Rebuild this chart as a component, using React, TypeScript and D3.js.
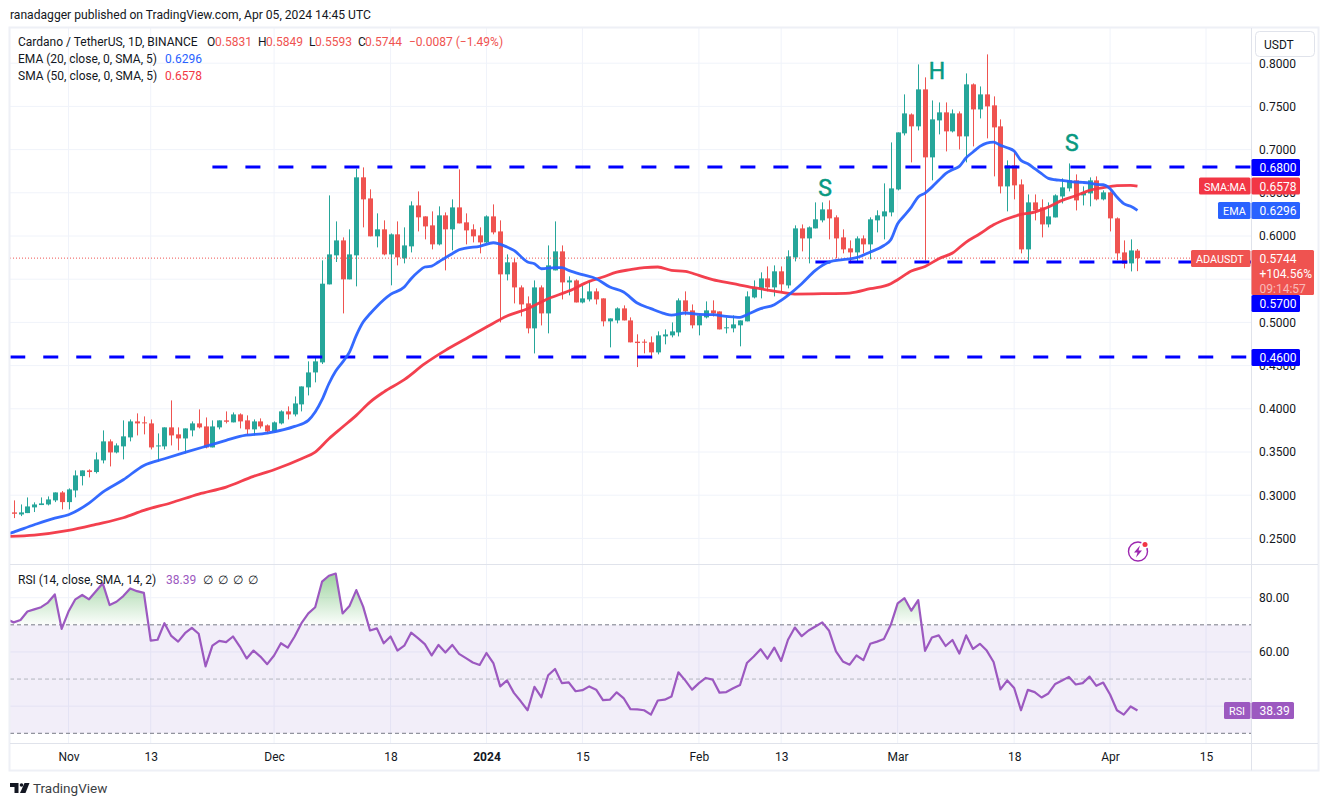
import * as d3 from "d3";
import React, { useEffect, useRef } from "react";

const FONT = "Roboto, sans-serif";
const GREEN = "#26a69a";
const RED = "#ef5350";
const EMA_BLUE = "#2962ff";
const SMA_RED = "#f23645";
const RSI_PURPLE = "#9c59c0";
const LEVEL_BLUE = "#0000ff";
const GRID = "#f0f3fa";
const BORDER = "#e0e3eb";
const TEXT = "#131722";

const firstBar = Date.UTC(2023, 9, 24);

const candleOpen = [
	0.2801, 0.2777, 0.2793, 0.2859, 0.2886, 0.2893, 0.294, 0.3032, 0.292, 0.3055,
	0.3221, 0.3287, 0.3268, 0.3403, 0.3623, 0.3495, 0.3565, 0.3669, 0.3854, 0.3843,
	0.3831, 0.3568, 0.3565, 0.3785, 0.3704, 0.3657, 0.375, 0.3831, 0.3796, 0.3553,
	0.3785, 0.3866, 0.3843, 0.3935, 0.3866, 0.3762, 0.3854, 0.3808, 0.3738, 0.3831,
	0.397, 0.3935, 0.4051, 0.4248, 0.4421, 0.4537, 0.544, 0.5776, 0.5949, 0.5498,
	0.5776, 0.6679, 0.6435, 0.5996, 0.6077, 0.5787, 0.6019, 0.5741, 0.588, 0.6354,
	0.6227, 0.6123, 0.5903, 0.6239, 0.6077, 0.6331, 0.6158, 0.6077, 0.6007, 0.5926,
	0.6227, 0.6053, 0.5556, 0.5695, 0.5405, 0.522, 0.4931, 0.5405, 0.5104, 0.5602,
	0.5822, 0.5463, 0.5486, 0.5231, 0.5266, 0.5359, 0.5278, 0.5012, 0.5023, 0.5162,
	0.5023, 0.4777, 0.4777, 0.4769, 0.4653, 0.4838, 0.485, 0.4884, 0.5255, 0.5139,
	0.4966, 0.5058, 0.5139, 0.5127, 0.494, 0.4931, 0.4966, 0.5012, 0.5289, 0.5394,
	0.5509, 0.5405, 0.5591, 0.5428, 0.5752, 0.6088, 0.5972, 0.6088, 0.6181, 0.6308,
	0.6216, 0.5984, 0.5857, 0.581, 0.5972, 0.5903, 0.6181, 0.6227, 0.6273, 0.6539,
	0.7188, 0.7407, 0.7269, 0.7697, 0.691, 0.7338, 0.7431, 0.7211, 0.7419, 0.7153,
	0.7755, 0.7465, 0.7639, 0.7512, 0.7269, 0.6574, 0.6817, 0.6597, 0.5845, 0.6389,
	0.6331, 0.6134, 0.6215, 0.6458, 0.6551, 0.6644, 0.647, 0.6493, 0.6644, 0.6424,
	0.6505, 0.6204, 0.581, 0.5683, 0.5831,
];

const candleHigh = [
	0.294, 0.2893, 0.2974, 0.2917, 0.2974, 0.2986, 0.3032, 0.3048, 0.3079, 0.3287,
	0.3287, 0.3299, 0.3495, 0.375, 0.3646, 0.36, 0.3866, 0.3877, 0.3947, 0.3912,
	0.3877, 0.3715, 0.3785, 0.4097, 0.3785, 0.3773, 0.3854, 0.3993, 0.39, 0.3866,
	0.3866, 0.397, 0.3958, 0.3947, 0.3924, 0.3877, 0.3889, 0.3819, 0.3854, 0.3982,
	0.4028, 0.4143, 0.4259, 0.4549, 0.4595, 0.5718, 0.647, 0.6169, 0.5984, 0.6077,
	0.6779, 0.6794, 0.654, 0.6262, 0.6181, 0.603, 0.6169, 0.61, 0.6401, 0.6516,
	0.6227, 0.6285, 0.6343, 0.6273, 0.6424, 0.6771, 0.6262, 0.6135, 0.61, 0.6239,
	0.6366, 0.6181, 0.5787, 0.5741, 0.5428, 0.5301, 0.5486, 0.5428, 0.5891, 0.6169,
	0.5891, 0.5533, 0.5498, 0.5428, 0.5486, 0.5394, 0.5278, 0.5046, 0.5174, 0.5197,
	0.5058, 0.4862, 0.4804, 0.4838, 0.4896, 0.4919, 0.5, 0.5278, 0.5359, 0.5208,
	0.5093, 0.5243, 0.5255, 0.5127, 0.5058, 0.5081, 0.5023, 0.5359, 0.5486, 0.5579,
	0.5648, 0.566, 0.5648, 0.5834, 0.6123, 0.6134, 0.6111, 0.6389, 0.6389, 0.6412,
	0.6239, 0.6077, 0.5949, 0.5996, 0.6007, 0.6216, 0.6297, 0.6609, 0.7083, 0.7199,
	0.7639, 0.7419, 0.7986, 0.7836, 0.7569, 0.7546, 0.7546, 0.7465, 0.7442, 0.7882,
	0.7766, 0.7731, 0.8102, 0.7616, 0.735, 0.6875, 0.6991, 0.6655, 0.6481, 0.6481,
	0.6424, 0.6389, 0.6482, 0.6667, 0.684, 0.6713, 0.6574, 0.6678, 0.669, 0.6528,
	0.6516, 0.6215, 0.5949, 0.5961, 0.5849,
];

const candleLow = [
	0.2735, 0.2758, 0.2793, 0.2805, 0.2886, 0.2882, 0.292, 0.2836, 0.2836, 0.2975,
	0.3113, 0.3206, 0.3252, 0.3368, 0.3333, 0.3484, 0.3414, 0.3623, 0.3692, 0.3704,
	0.353, 0.3391, 0.353, 0.3576, 0.3519, 0.3484, 0.3681, 0.3773, 0.3542, 0.3553,
	0.3762, 0.3831, 0.3843, 0.3773, 0.3704, 0.3692, 0.3773, 0.3715, 0.3727, 0.3819,
	0.3877, 0.3912, 0.397, 0.4155, 0.4306, 0.4518, 0.544, 0.5699, 0.5104, 0.5498,
	0.5417, 0.61, 0.5996, 0.5868, 0.5776, 0.5429, 0.566, 0.5683, 0.581, 0.6053,
	0.5961, 0.5845, 0.5891, 0.5602, 0.5834, 0.6146, 0.5903, 0.5926, 0.5799, 0.5915,
	0.6019, 0.5, 0.5486, 0.522, 0.507, 0.4873, 0.4641, 0.4965, 0.4873, 0.5602,
	0.5266, 0.5313, 0.5231, 0.522, 0.5243, 0.5208, 0.4954, 0.4711, 0.4989, 0.5023,
	0.4769, 0.4483, 0.4642, 0.4584, 0.463, 0.4746, 0.4827, 0.4838, 0.5081, 0.4931,
	0.485, 0.5046, 0.5069, 0.4919, 0.4873, 0.4885, 0.4723, 0.5012, 0.5278, 0.5278,
	0.5359, 0.5301, 0.5347, 0.5394, 0.5706, 0.5822, 0.5683, 0.6088, 0.6158, 0.5961,
	0.5741, 0.5799, 0.5683, 0.5695, 0.5799, 0.573, 0.6042, 0.5961, 0.6227, 0.6528,
	0.7164, 0.6852, 0.7222, 0.5718, 0.6644, 0.7176, 0.6979, 0.7199, 0.7002, 0.6852,
	0.7037, 0.7361, 0.713, 0.669, 0.6493, 0.6285, 0.6424, 0.5799, 0.5683, 0.6181,
	0.5984, 0.61, 0.6215, 0.6377, 0.6516, 0.6296, 0.6354, 0.6343, 0.6412, 0.6412,
	0.6053, 0.5718, 0.5625, 0.559, 0.5593,
];

const candleClose = [
	0.2785, 0.2801, 0.287, 0.2893, 0.2905, 0.2951, 0.3032, 0.292, 0.3067, 0.3229,
	0.3287, 0.3268, 0.3414, 0.3623, 0.3495, 0.3576, 0.3681, 0.3854, 0.3831, 0.3835,
	0.3553, 0.3576, 0.3785, 0.3692, 0.3657, 0.3773, 0.3831, 0.3785, 0.3553, 0.3796,
	0.3866, 0.385, 0.3935, 0.3854, 0.3762, 0.3854, 0.3796, 0.3738, 0.3843, 0.397,
	0.3935, 0.4062, 0.4259, 0.4421, 0.4549, 0.5448, 0.5787, 0.5949, 0.5498, 0.5787,
	0.6679, 0.6424, 0.5996, 0.6077, 0.5787, 0.6019, 0.5753, 0.5891, 0.6354, 0.6216,
	0.6111, 0.5903, 0.6239, 0.6077, 0.6331, 0.6146, 0.6065, 0.5996, 0.5926, 0.6227,
	0.6042, 0.5556, 0.5695, 0.5405, 0.5208, 0.4931, 0.5405, 0.5104, 0.566, 0.5822,
	0.5463, 0.5486, 0.5231, 0.5278, 0.5359, 0.5266, 0.5012, 0.5046, 0.5162, 0.5023,
	0.4769, 0.4761, 0.4769, 0.4653, 0.485, 0.4861, 0.4896, 0.5255, 0.5128, 0.4966,
	0.5081, 0.5139, 0.5104, 0.4919, 0.4943, 0.4977, 0.5023, 0.5301, 0.5405, 0.5509,
	0.5405, 0.5591, 0.544, 0.5764, 0.6088, 0.5972, 0.61, 0.6193, 0.6308, 0.6204,
	0.5972, 0.5845, 0.581, 0.5972, 0.5903, 0.6193, 0.6239, 0.6285, 0.6551, 0.7199,
	0.7419, 0.7269, 0.7697, 0.691, 0.735, 0.7431, 0.7211, 0.7419, 0.7153, 0.7755,
	0.7465, 0.7639, 0.75, 0.7257, 0.6574, 0.6817, 0.6586, 0.5845, 0.6389, 0.6296,
	0.6134, 0.6227, 0.647, 0.6563, 0.6644, 0.6412, 0.6505, 0.6644, 0.6424, 0.6505,
	0.6204, 0.5799, 0.5679, 0.5833, 0.5744,
];

// bar number (0 = Oct 24) of each value
const emaBars = [
	-1, 0, 3, 6, 8, 11, 13, 16, 19, 22, 25, 28, 31, 33, 37, 41, 43, 44, 45, 46, 47, 48, 49, 50, 51, 52, 53, 55, 57, 58,
	59, 60, 61, 62, 63, 64, 65, 66, 68, 70, 72, 73, 75, 76, 77, 79, 80, 81, 83, 85, 87, 89, 91, 93, 95, 96, 98, 100, 102,
	104, 106, 107, 109, 111, 112, 113, 115, 117, 119, 121, 123, 125, 127, 128, 129, 130, 131, 132, 133, 134, 135, 136,
	137, 138, 139, 140, 141, 142, 143, 144, 145, 146, 147, 148, 149, 150, 151, 152, 153, 154, 155, 156, 157, 158, 159,
	160, 161, 162, 163, 164,
];
const emaValues = [
	0.2546, 0.2573, 0.2658, 0.2735, 0.2774, 0.2909, 0.3036, 0.3179, 0.3345, 0.3422, 0.3495, 0.3565, 0.3634, 0.3681,
	0.3719, 0.3796, 0.3866, 0.3962, 0.4105, 0.429, 0.4437, 0.4541, 0.4657, 0.485, 0.5004, 0.51, 0.5185, 0.5324, 0.5409,
	0.5506, 0.5583, 0.5641, 0.5652, 0.5699, 0.5749, 0.5795, 0.5841, 0.5861, 0.588, 0.5922, 0.5872, 0.5834, 0.5699,
	0.5679, 0.5621, 0.5633, 0.5633, 0.5602, 0.5552, 0.5506, 0.5409, 0.5352, 0.5224, 0.5159, 0.5101, 0.5085, 0.5109,
	0.5093, 0.5089, 0.507, 0.5058, 0.5089, 0.5159, 0.5205, 0.5255, 0.5313, 0.5448, 0.5602, 0.5699, 0.5726, 0.5749,
	0.5815, 0.589, 0.5957, 0.6142, 0.6238, 0.6335, 0.6451, 0.6497, 0.6566, 0.6644, 0.6721, 0.6767, 0.6806, 0.6906,
	0.6972, 0.7037, 0.7076, 0.7087, 0.7049, 0.7022, 0.6983, 0.6875, 0.6836, 0.6779, 0.6721, 0.6667, 0.6651, 0.6644,
	0.6632, 0.6624, 0.662, 0.6613, 0.6597, 0.6593, 0.6547, 0.6451, 0.6374, 0.6343, 0.6296,
];

const smaBars = [
	-1, 3, 8, 12, 16, 19, 23, 27, 31, 35, 38, 42, 44, 46, 48, 50, 52, 54, 57, 60, 63, 66, 69, 72, 75, 78, 81, 84, 86, 88,
	90, 92, 94, 96, 98, 100, 102, 105, 108, 111, 114, 118, 122, 125, 128, 129, 131, 133, 135, 137, 139, 141, 143, 145,
	147, 149, 151, 153, 155, 157, 159, 161, 163, 164,
];
const smaValues = [
	0.2523, 0.2539, 0.2593, 0.2662, 0.2739, 0.2824, 0.2913, 0.3013, 0.3094, 0.3218, 0.3295, 0.3422, 0.3499, 0.3653,
	0.3789, 0.3924, 0.4078, 0.4194, 0.4337, 0.4522, 0.4676, 0.4811, 0.4946, 0.5074, 0.5158, 0.5274, 0.5363, 0.5475,
	0.5525, 0.5583, 0.561, 0.5633, 0.5641, 0.5602, 0.5591, 0.5544, 0.5494, 0.5448, 0.5402, 0.5363, 0.5328, 0.5332,
	0.534, 0.539, 0.5448, 0.5494, 0.5594, 0.5648, 0.5737, 0.5803, 0.593, 0.6026, 0.613, 0.62, 0.625, 0.6277, 0.6335,
	0.6412, 0.6466, 0.6528, 0.6559, 0.6582, 0.6586, 0.6578,
];

// starts one bar earlier than the candles, the pane clips it at the left edge
const rsiValues = [
	72.0, 70.9, 71.8, 74.9, 75.7, 76.5, 78.2, 81.2, 68.5, 74.9, 79.4, 81.0, 79.4, 82.4, 85.3, 77.3, 78.5, 80.6, 83.4,
	82.4, 81.8, 64.2, 64.5, 70.6, 65.9, 63.8, 66.9, 68.9, 66.7, 54.7, 62.3, 64.1, 63.6, 65.7, 62.0, 57.6, 60.5, 58.3,
	55.5, 58.7, 63.2, 61.6, 65.7, 70.6, 74.2, 76.5, 85.9, 88.1, 88.9, 74.2, 76.9, 82.8, 76.7, 67.9, 68.7, 63.2, 65.7,
	60.5, 62.3, 67.1, 65.1, 62.9, 58.7, 62.6, 59.8, 62.6, 59.3, 57.7, 56.1, 55.2, 59.6, 55.9, 47.3, 49.5, 44.9, 41.8,
	38.5, 47.1, 43.3, 51.4, 53.7, 48.5, 48.8, 45.5, 45.9, 47.3, 46.1, 42.2, 42.4, 45.1, 43.0, 38.9, 38.8, 38.5, 36.9,
	42.1, 42.4, 43.6, 52.5, 49.5, 46.1, 48.5, 50.4, 49.8, 45.0, 45.2, 46.6, 47.8, 55.9, 58.3, 61.0, 57.5, 61.6, 56.7,
	64.5, 69.0, 65.8, 67.9, 69.4, 70.9, 67.8, 60.2, 56.5, 55.3, 58.7, 57.0, 63.0, 63.8, 64.8, 70.0, 77.9, 79.8, 75.2,
	79.1, 60.4, 65.3, 66.1, 62.2, 64.4, 59.4, 66.1, 61.1, 63.0, 60.5, 56.3, 46.2, 49.5, 46.7, 38.5, 46.0, 45.2, 43.2,
	44.7, 48.2, 49.5, 50.8, 48.0, 48.5, 50.9, 47.5, 48.7, 44.3, 38.5, 36.9, 39.9, 38.39,
];

const priceTicks = [0.25, 0.3, 0.35, 0.4, 0.45, 0.5, 0.55, 0.6, 0.65, 0.7, 0.75, 0.8];
const rsiTicks = [40, 60, 80];
const timeTicks = [
	{ date: Date.UTC(2023, 10, 1), label: "Nov" },
	{ date: Date.UTC(2023, 10, 13), label: "13" },
	{ date: Date.UTC(2023, 11, 1), label: "Dec" },
	{ date: Date.UTC(2023, 11, 18), label: "18" },
	{ date: Date.UTC(2024, 0, 1), label: "2024" },
	{ date: Date.UTC(2024, 0, 15), label: "15" },
	{ date: Date.UTC(2024, 1, 1), label: "Feb" },
	{ date: Date.UTC(2024, 1, 13), label: "13" },
	{ date: Date.UTC(2024, 2, 1), label: "Mar" },
	{ date: Date.UTC(2024, 2, 18), label: "18" },
	{ date: Date.UTC(2024, 3, 1), label: "Apr" },
	{ date: Date.UTC(2024, 3, 15), label: "15" },
];

// horizontal levels drawn on the chart, with the day they start on
const levels = [
	{ value: 0.68, from: Date.UTC(2023, 10, 22) },
	{ value: 0.57, from: Date.UTC(2024, 1, 18) },
	{ value: 0.46, from: Date.UTC(2023, 9, 23, 12) },
];

const patternLabels = [
	{ text: "S", date: Date.UTC(2024, 1, 19, 10), price: 0.6463 },
	{ text: "H", date: Date.UTC(2024, 2, 6, 18), price: 0.7817 },
	{ text: "S", date: Date.UTC(2024, 2, 26, 10), price: 0.6984 },
];

const legendRows = [
	{ y: 46, parts: [{ x: 18, text: "Cardano / TetherUS, 1D, BINANCE", fill: TEXT }] },
	{ y: 63, parts: [{ x: 18, text: "EMA (20, close, 0, SMA, 5)", fill: TEXT }, { x: 165, text: "0.6296", fill: EMA_BLUE }] },
	{ y: 80, parts: [{ x: 18, text: "SMA (50, close, 0, SMA, 5)", fill: TEXT }, { x: 165, text: "0.6578", fill: SMA_RED }] },
];
const ohlcParts = [
	{ x: 207, text: "O", fill: TEXT },
	{ x: 215, text: "0.5831", fill: RED },
	{ x: 258, text: "H", fill: TEXT },
	{ x: 266, text: "0.5849", fill: RED },
	{ x: 309, text: "L", fill: TEXT },
	{ x: 315, text: "0.5593", fill: RED },
	{ x: 358, text: "C", fill: TEXT },
	{ x: 365, text: "0.5744", fill: RED },
	{ x: 409, text: "−0.0087 (−1.49%)", fill: RED },
];

export default function App() {
	const svgRef = useRef(null);

	useEffect(() => {
		const svg = d3.select(svgRef.current);
		svg.selectAll("*").remove();

		const left = 10;
		const right = 1251.5;
		const top = 28;
		const paneBottom = 564.5;
		const rsiBottom = 743.5;
		const bottom = 770.5;

		const barDate = (i) => firstBar + i * 86400000;
		const x = d3
			.scaleUtc()
			.domain([Date.UTC(2023, 10, 1), Date.UTC(2024, 3, 15)])
			.range([68.5, 1206]);
		const y = d3.scaleLinear().domain([0.25, 0.8]).range([538.4, 63.2]);
		const yRsi = d3.scaleLinear().domain([30, 80]).range([733.3, 597.7]);

		const defs = svg.append("defs");
		defs.append("clipPath").attr("id", "main-clip").append("rect").attr("x", left).attr("y", top).attr("width", right - left).attr("height", paneBottom - top);
		defs.append("clipPath").attr("id", "rsi-clip").append("rect").attr("x", left).attr("y", paneBottom).attr("width", right - left).attr("height", rsiBottom - paneBottom);
		defs.append("clipPath").attr("id", "over-clip").append("rect").attr("x", left).attr("y", paneBottom).attr("width", right - left).attr("height", yRsi(70) - paneBottom);
		const grad = defs.append("linearGradient").attr("id", "over-fill").attr("gradientUnits", "userSpaceOnUse").attr("x1", 0).attr("x2", 0).attr("y1", yRsi(89)).attr("y2", yRsi(70));
		grad.append("stop").attr("offset", 0).attr("stop-color", "#4caf50").attr("stop-opacity", 0.55);
		grad.append("stop").attr("offset", 1).attr("stop-color", "#4caf50").attr("stop-opacity", 0.02);

		svg.append("rect").attr("width", 1329).attr("height", 806).attr("fill", "white");

		svg
			.append("text")
			.attr("x", 10)
			.attr("y", 19)
			.attr("font-size", 12.1)
			.attr("fill", TEXT)
			.text("ranadagger published on TradingView.com, Apr 05, 2024 14:45 UTC");

		// grid
		const grid = svg.append("g").attr("stroke", GRID).attr("stroke-width", 1);
		grid
			.selectAll("line.v")
			.data(timeTicks)
			.join("line")
			.attr("class", "v")
			.attr("x1", (d) => x(d.date))
			.attr("x2", (d) => x(d.date))
			.attr("y1", top)
			.attr("y2", rsiBottom);
		grid
			.selectAll("line.h")
			.data(priceTicks)
			.join("line")
			.attr("class", "h")
			.attr("x1", left)
			.attr("x2", right)
			.attr("y1", (d) => y(d))
			.attr("y2", (d) => y(d));
		grid
			.selectAll("line.r")
			.data(rsiTicks)
			.join("line")
			.attr("class", "r")
			.attr("x1", left)
			.attr("x2", right)
			.attr("y1", (d) => yRsi(d))
			.attr("y2", (d) => yRsi(d));

		// candles
		const bars = candleOpen.map((open, i) => ({
			date: barDate(i),
			open,
			high: candleHigh[i],
			low: candleLow[i],
			close: candleClose[i],
		}));
		const candles = svg
			.append("g")
			.attr("clip-path", "url(#main-clip)")
			.selectAll("g")
			.data(bars)
			.join("g")
			.attr("fill", (d) => (d.close >= d.open ? GREEN : RED))
			.attr("stroke", (d) => (d.close >= d.open ? GREEN : RED));
		candles
			.append("line")
			.attr("x1", (d) => Math.round(x(d.date)) + 0.5)
			.attr("x2", (d) => Math.round(x(d.date)) + 0.5)
			.attr("y1", (d) => y(d.high))
			.attr("y2", (d) => y(d.low));
		candles
			.append("rect")
			.attr("stroke", "none")
			.attr("x", (d) => Math.round(x(d.date)) - 2)
			.attr("width", 5)
			.attr("y", (d) => y(Math.max(d.open, d.close)))
			.attr("height", (d) => Math.max(1, Math.abs(y(d.open) - y(d.close))));

		// last price dotted line
		svg
			.append("line")
			.attr("x1", left)
			.attr("x2", right)
			.attr("y1", y(0.5744))
			.attr("y2", y(0.5744))
			.attr("stroke", RED)
			.attr("stroke-dasharray", "1 2");

		// levels
		svg
			.append("g")
			.attr("clip-path", "url(#main-clip)")
			.selectAll("line")
			.data(levels)
			.join("line")
			.attr("x1", (d) => x(d.from))
			.attr("x2", right)
			.attr("y1", (d) => y(d.value))
			.attr("y2", (d) => y(d.value))
			.attr("stroke", LEVEL_BLUE)
			.attr("stroke-width", 3)
			.attr("stroke-dasharray", "15 18");

		// moving averages
		const maLine = d3
			.line()
			.x((d) => x(barDate(d[0])))
			.y((d) => y(d[1]))
			.curve(d3.curveMonotoneX);
		const maGroup = svg.append("g").attr("clip-path", "url(#main-clip)").attr("fill", "none").attr("stroke-width", 2.8).attr("stroke-linejoin", "round");
		maGroup.append("path").attr("d", maLine(d3.zip(smaBars, smaValues))).attr("stroke", SMA_RED).attr("stroke-opacity", 0.95);
		maGroup.append("path").attr("d", maLine(d3.zip(emaBars, emaValues))).attr("stroke", EMA_BLUE).attr("stroke-opacity", 0.95);

		// head and shoulders letters
		svg
			.append("g")
			.selectAll("text")
			.data(patternLabels)
			.join("text")
			.attr("x", (d) => x(d.date))
			.attr("y", (d) => y(d.price))
			.attr("text-anchor", "middle")
			.attr("font-size", 23)
			.attr("fill", "#089981")
			.attr("stroke", "#089981")
			.attr("stroke-width", 0.5)
			.text((d) => d.text);

		// RSI pane
		const rsi = svg.append("g").attr("clip-path", "url(#rsi-clip)");
		rsi
			.append("rect")
			.attr("x", left)
			.attr("width", right - left)
			.attr("y", yRsi(70))
			.attr("height", yRsi(30) - yRsi(70))
			.attr("fill", "#7e57c2")
			.attr("fill-opacity", 0.1);
		const rsiPoints = rsiValues.map((v, i) => [i - 1, v]);
		const rsiArea = d3
			.area()
			.x((d) => x(barDate(d[0])))
			.y0(yRsi(70))
			.y1((d) => yRsi(d[1]));
		rsi.append("path").attr("d", rsiArea(rsiPoints)).attr("fill", "url(#over-fill)").attr("clip-path", "url(#over-clip)");
		[
			{ v: 70, stroke: "#787b86", dash: "4 3" },
			{ v: 50, stroke: "#b2b5be", dash: "4 3" },
			{ v: 30, stroke: "#787b86", dash: "4 3" },
		].forEach((l) => {
			rsi
				.append("line")
				.attr("x1", left)
				.attr("x2", right)
				.attr("y1", yRsi(l.v))
				.attr("y2", yRsi(l.v))
				.attr("stroke", l.stroke)
				.attr("stroke-dasharray", l.dash);
		});
		const rsiLine = d3
			.line()
			.x((d) => x(barDate(d[0])))
			.y((d) => yRsi(d[1]));
		rsi.append("path").attr("d", rsiLine(rsiPoints)).attr("fill", "none").attr("stroke", RSI_PURPLE).attr("stroke-width", 2.2).attr("stroke-linejoin", "round");

		// frame
		const frame = svg.append("g").attr("stroke", BORDER).attr("fill", "none");
		frame.append("rect").attr("x", 9.5).attr("y", 27.5).attr("width", 1309).attr("height", 743).attr("stroke", "#eef0f6").attr("stroke-width", 2);
		frame.append("line").attr("x1", left).attr("x2", 1318).attr("y1", paneBottom).attr("y2", paneBottom);
		frame.append("line").attr("x1", left).attr("x2", 1318).attr("y1", rsiBottom).attr("y2", rsiBottom);
		frame.append("line").attr("x1", right).attr("x2", right).attr("y1", top).attr("y2", bottom);

		// axes
		const styleAxis = (g) => {
			g.select(".domain").remove();
			g.attr("font-family", FONT).attr("font-size", 12);
			g.selectAll("text").attr("fill", TEXT);
		};
		svg
			.append("g")
			.attr("transform", `translate(${right},0)`)
			.call(d3.axisRight(y).tickValues(priceTicks).tickFormat(d3.format(".4f")).tickSize(0).tickPadding(7.5))
			.call(styleAxis);
		svg
			.append("g")
			.attr("transform", `translate(${right},0)`)
			.call(d3.axisRight(yRsi).tickValues(rsiTicks).tickFormat(d3.format(".2f")).tickSize(0).tickPadding(7.5))
			.call(styleAxis);
		const timeLabels = new Map(timeTicks.map((d) => [d.date, d.label]));
		svg
			.append("g")
			.attr("transform", `translate(0,${rsiBottom})`)
			.call(
				d3
					.axisBottom(x)
					.tickValues(timeTicks.map((d) => new Date(d.date)))
					.tickFormat((d) => timeLabels.get(+d))
					.tickSize(0)
					.tickPadding(8.5),
			)
			.call(styleAxis)
			.selectAll("text")
			.attr("font-weight", (d) => (+d === Date.UTC(2024, 0, 1) ? 700 : 400));

		// legend
		const legend = svg.append("g").attr("font-size", 12);
		legendRows.forEach((row) => {
			legend
				.append("g")
				.selectAll("text")
				.data(row.parts)
				.join("text")
				.attr("x", (d) => d.x)
				.attr("y", row.y)
				.attr("fill", (d) => d.fill)
				.text((d) => d.text);
		});
		legend
			.append("g")
			.selectAll("text")
			.data(ohlcParts)
			.join("text")
			.attr("x", (d) => d.x)
			.attr("y", 46)
			.attr("fill", (d) => d.fill)
			.text((d) => d.text);
		const rsiLegend = svg.append("g").attr("font-size", 12);
		rsiLegend.append("text").attr("x", 18).attr("y", 584).attr("fill", TEXT).text("RSI (14, close, SMA, 14, 2)");
		rsiLegend.append("text").attr("x", 166).attr("y", 584).attr("fill", RSI_PURPLE).text(d3.format(".2f")(38.39));
		rsiLegend
			.selectAll("text.na")
			.data([203, 218, 233, 248])
			.join("text")
			.attr("class", "na")
			.attr("x", (d) => d)
			.attr("y", 584)
			.attr("fill", TEXT)
			.text("∅");

		// price scale tags
		const tag = (x0, x1, yTop, yBottom, fill, lines) => {
			svg
				.append("rect")
				.attr("x", x0)
				.attr("y", yTop)
				.attr("width", x1 - x0)
				.attr("height", yBottom - yTop)
				.attr("rx", 1.5)
				.attr("fill", fill);
			lines.forEach((l, i) => {
				svg
					.append("text")
					.attr("x", x0 + (l.pad ?? 8))
					.attr("y", yTop + 13 + i * 15)
					.attr("font-size", l.size ?? 12)
					.attr("fill", "white")
					.attr("fill-opacity", l.opacity ?? 1)
					.text(l.text);
			});
		};
		tag(1251.5, 1300, y(0.68) - 8, y(0.68) + 9, LEVEL_BLUE, [{ text: "0.6800" }]);
		tag(1199, 1250.5, y(0.6578) - 8.5, y(0.6578) + 8.5, SMA_RED, [{ text: "SMA:MA", pad: 5, size: 10.8 }]);
		tag(1251.5, 1300, y(0.6578) - 8.5, y(0.6578) + 8.5, SMA_RED, [{ text: "0.6578" }]);
		tag(1218, 1250.5, y(0.6296) - 8.5, y(0.6296) + 8.5, EMA_BLUE, [{ text: "EMA", pad: 5, size: 10.8 }]);
		tag(1251.5, 1300, y(0.6296) - 8.5, y(0.6296) + 8.5, EMA_BLUE, [{ text: "0.6296" }]);
		tag(1191, 1250.5, 250, 267, RED, [{ text: "ADAUSDT", pad: 5, size: 10.8 }]);
		tag(1251.5, 1314, 250, 295, RED, [{ text: "0.5744" }, { text: "+104.56%" }, { text: "09:14:57", opacity: 0.6 }]);
		tag(1251.5, 1300, 295, 312, LEVEL_BLUE, [{ text: "0.5700" }]);
		tag(1251.5, 1300, y(0.46) - 8, y(0.46) + 9, LEVEL_BLUE, [{ text: "0.4600" }]);
		tag(1224, 1250.5, yRsi(38.39) - 8.5, yRsi(38.39) + 8.5, RSI_PURPLE, [{ text: "RSI", pad: 5, size: 10.8 }]);
		tag(1251.5, 1294, yRsi(38.39) - 8.5, yRsi(38.39) + 8.5, RSI_PURPLE, [{ text: "38.39" }]);

		// currency button
		svg.append("rect").attr("x", 1255.5).attr("y", 31.5).attr("width", 59).attr("height", 25).attr("rx", 4).attr("fill", "white").attr("stroke", BORDER);
		svg.append("text").attr("x", 1264).attr("y", 49).attr("font-size", 12).attr("fill", TEXT).text("USDT");

		// news icon
		const icon = svg.append("g").attr("transform", "translate(1138,551.5)");
		icon.append("circle").attr("r", 9.5).attr("fill", "none").attr("stroke", "#9c27b0").attr("stroke-width", 1.4);
		icon.append("path").attr("d", "M2,-6 L-4,1 L-0.5,1 L-2,6 L4,-1 L0.5,-1 Z").attr("fill", "#9c27b0");
		icon.append("circle").attr("cx", 7).attr("cy", -7).attr("r", 4).attr("fill", "white");
		icon.append("circle").attr("cx", 7).attr("cy", -7).attr("r", 2.5).attr("fill", SMA_RED);

		// footer logo
		const logo = svg.append("g").attr("fill", TEXT);
		logo.append("path").attr("d", "M10,783 H18.5 V793 H14.5 V787 H10 Z");
		logo.append("circle").attr("cx", 21.5).attr("cy", 785).attr("r", 1.8);
		logo.append("path").attr("d", "M24.5,783 H29.5 L25.5,793 H20 Z");
		svg.append("text").attr("x", 33).attr("y", 793).attr("font-size", 13.5).attr("fill", "#3c4043").text("TradingView");
	}, []);

	return (
		<svg
			ref={svgRef}
			width={1329}
			height={806}
			style={{ position: "absolute", left: 0, top: 0, fontFamily: FONT }}
		/>
	);
}
